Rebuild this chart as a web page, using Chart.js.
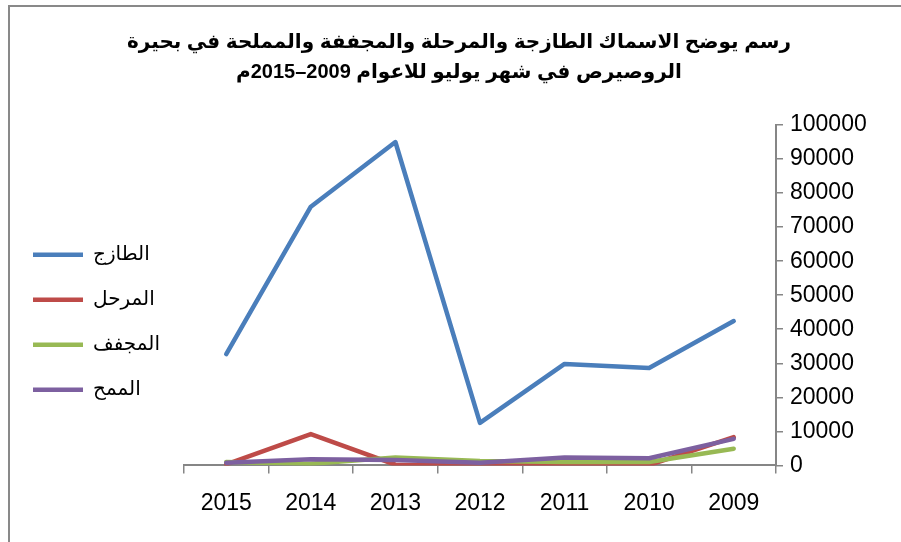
<!DOCTYPE html>
<html>
<head>
<meta charset="utf-8">
<script src="https://cdn.jsdelivr.net/npm/chart.js@4/dist/chart.umd.min.js"></script>
<style>
  html, body { margin: 0; padding: 0; background: #fff; overflow: hidden; }
  #frame { position: absolute; left: 8px; top: 5px; width: 940px; height: 600px; border: 2px solid #898989; }
  #fishChart { position: absolute; left: 8px; top: 7px; }
</style>
</head>
<body>
<div id="frame"></div>
<canvas id="fishChart" width="902" height="535" dir="rtl"></canvas>
<script>
// years run right to left like the original sheet
const years = ['2015', '2014', '2013', '2012', '2011', '2010', '2009'];
const fresh = [32700, 76000, 95000, 12500, 29800, 28600, 42400];    // الطازج
const transported = [300, 9200, 200, 100, 100, 100, 8300];         // المرحل
const dried = [1000, 500, 2300, 1300, 1000, 1000, 4900];           // المجفف
const salted = [800, 1800, 1600, 800, 2300, 2100, 7800];           // الممح
const yTicks = [0, 10000, 20000, 30000, 40000, 50000, 60000, 70000, 80000, 90000, 100000];

const fontFamily = "'Liberation Sans', Arial, 'DejaVu Sans', sans-serif";
const axisGray = '#868686';

function line(label, data, color, order) {
    return {
        label: label,
        data: data,
        borderColor: color,
        backgroundColor: color,
        borderWidth: 4.5,
        borderCapStyle: 'round',
        borderJoinStyle: 'round',
        pointRadius: 0,
        tension: 0,
        order: order
    };
}

// legend sits to the left, a bit wider than its content
const legendWidth = {
    id: 'legendWidth',
    beforeUpdate(chart) {
        const lg = chart.legend;
        if (lg && !lg._widened) {
            const fit = lg.fit;
            lg.fit = function () {
                fit.call(this);
                this.width += 14;
            };
            lg._widened = true;
        }
    }
};

var ctx = document.getElementById('fishChart');
new Chart(ctx, {
    type: 'line',
    plugins: [legendWidth],
    data: {
        labels: years,
        datasets: [
            line('الطازج', fresh, '#4A7EBB', 3),
            line('المرحل', transported, '#BE4B48', 2),
            line('المجفف', dried, '#98B954', 1),
            line('الممح', salted, '#7D60A0', 0)
        ]
    },
    options: {
        responsive: false,
        animation: false,
        layout: {
            padding: {left: 0, right: 0, top: 0, bottom: 9}
        },
        plugins: {
            title: {
                display: true,
                text: ['رسم يوضح الاسماك الطازجة والمرحلة والمجففة والمملحة في بحيرة',
                       'الروصيرص في شهر يوليو للاعوام 2009–2015م'],
                color: '#000',
                font: {family: fontFamily, size: 20, weight: 'bold', lineHeight: 1.5},
                padding: {top: 20, bottom: 38}
            },
            legend: {
                position: 'left',
                title: {display: true, text: ' ', padding: 45},
                labels: {
                    usePointStyle: true,
                    pointStyle: 'line',
                    pointStyleWidth: 50,
                    boxWidth: 50,
                    padding: 25,
                    color: '#000',
                    font: {family: fontFamily, size: 20},
                    sort: function (a, b) { return a.datasetIndex - b.datasetIndex; }
                }
            },
            tooltip: {enabled: false}
        },
        scales: {
            x: {
                offset: true,
                grid: {
                    offset: true,
                    drawOnChartArea: false,
                    drawTicks: true,
                    tickLength: 8,
                    color: axisGray,
                    lineWidth: 1.5
                },
                border: {color: axisGray, width: 2},
                ticks: {
                    color: '#000',
                    padding: 16,
                    maxRotation: 0,
                    font: {family: fontFamily, size: 23}
                }
            },
            y: {
                position: 'right',
                min: 0,
                max: 100000,
                afterBuildTicks: function (axis) {
                    axis.ticks = yTicks.map(function (v) { return {value: v}; });
                },
                afterFit: function (axis) {
                    axis.width = 134;
                },
                grid: {
                    drawOnChartArea: false,
                    tickLength: 7,
                    color: axisGray,
                    lineWidth: 1.5
                },
                border: {color: axisGray, width: 2},
                ticks: {
                    color: '#000',
                    padding: 7,
                    font: {family: fontFamily, size: 23},
                    callback: function (v) { return String(v); }
                }
            }
        }
    }
});
</script>
</body>
</html>
